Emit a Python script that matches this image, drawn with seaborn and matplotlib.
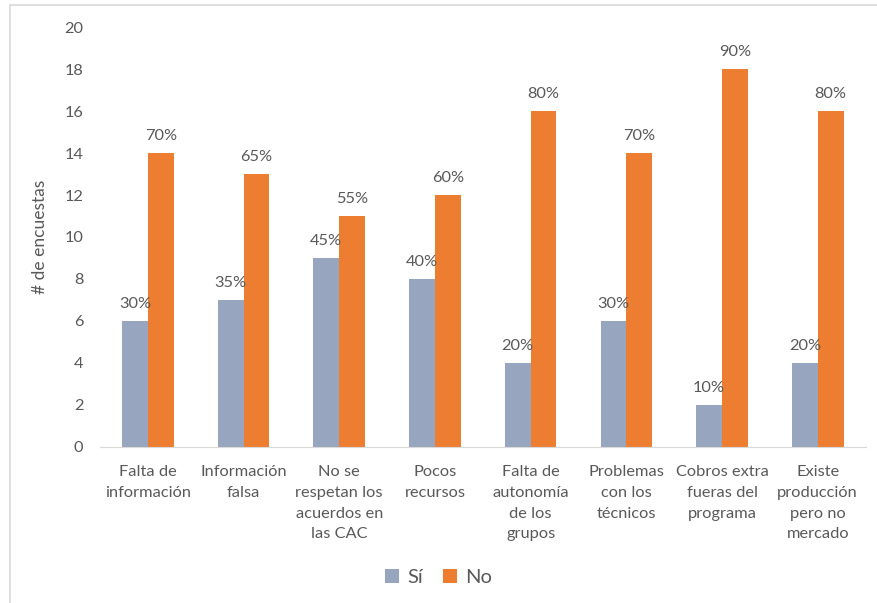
import matplotlib.pyplot as plt
import matplotlib.lines as mlines
import numpy   as np
import pandas  as pd
import seaborn as sns

# Chart data
categories = ['Falta de\ninformación', 'Información\nfalsa', 'No se\nrespetan los\nacuerdos en\nlas CAC',
              'Pocos\nrecursos', 'Falta de\nautonomía\nde los\ngrupos', 'Problemas\ncon los\ntécnicos',
              'Cobros extra\nfueras del\nprograma', 'Existe\nproducción\npero no\nmercado']
si_values  = [6, 7, 9, 8, 4, 6, 2, 4]
no_values  = [14, 13, 11, 12, 16, 14, 18, 16]
si_labels  = ['30%', '35%', '45%', '40%', '20%', '30%', '10%', '20%']
no_labels  = ['70%', '65%', '55%', '60%', '80%', '70%', '90%', '80%']

sns.set_style('white')
plt.rcParams['font.family'] = ['Lato', 'DejaVu Sans']

text_color = '#595959'
palette    = {'Sí': '#97A6BE', 'No': '#ED7D31'}

df = pd.DataFrame({'categoria': categories * 2,
                   'respuesta': ['Sí'] * len(categories) + ['No'] * len(categories),
                   'valor'    : si_values + no_values})

fig = plt.figure(figsize = (8.77, 6.03), dpi = 100)
ax  = fig.add_axes([0.114, 0.259, 0.873, 0.696])

sns.barplot(data = df, x = 'categoria', y = 'valor', hue = 'respuesta',
            palette = palette, width = 0.54, ax = ax, saturation = 1,
            edgecolor = 'none')

# Percentage labels above bars
for container, labels in zip(ax.containers, [si_labels, no_labels]):
    ax.bar_label(container, labels = labels, padding = 7,
                 fontsize = 11.8, color = text_color)

ax.set_ylim(0, 20)
ax.set_yticks(np.arange(0, 21, 2))
ax.set_xlim(-0.5, len(categories) - 0.5)
ax.set_xlabel('')
ax.set_ylabel('# de encuestas', fontsize = 12.5, color = text_color, labelpad = 12)
ax.tick_params(axis = 'both', length = 0, labelsize = 11.8, labelcolor = text_color)
ax.tick_params(axis = 'x', pad = 13)
ax.tick_params(axis = 'y', pad = 12)
for lbl in ax.get_xticklabels():
    lbl.set_linespacing(1.62)

for side in ['top', 'right', 'left']:
    ax.spines[side].set_visible(False)
ax.spines['bottom'].set_color('#D9D9D9')

handles, labels = ax.get_legend_handles_labels()
ax.legend(handles, labels, loc = 'center', bbox_to_anchor = (0.5, 0.043),
          bbox_transform = fig.transFigure, ncol = 2, frameon = False,
          fontsize = 14.5, labelcolor = text_color, handlelength = 0.7,
          handleheight = 0.7, handletextpad = 0.4, columnspacing = 1.0)

# Chart area border (top and left edges visible)
fig.add_artist(mlines.Line2D([0.0114, 1.0], [0.9917, 0.9917], color = '#D9D9D9', lw = 1.2))
fig.add_artist(mlines.Line2D([0.0114, 0.0114], [0.0, 0.9917], color = '#D9D9D9', lw = 1.2))

fig.savefig('out.png', dpi = 100)
